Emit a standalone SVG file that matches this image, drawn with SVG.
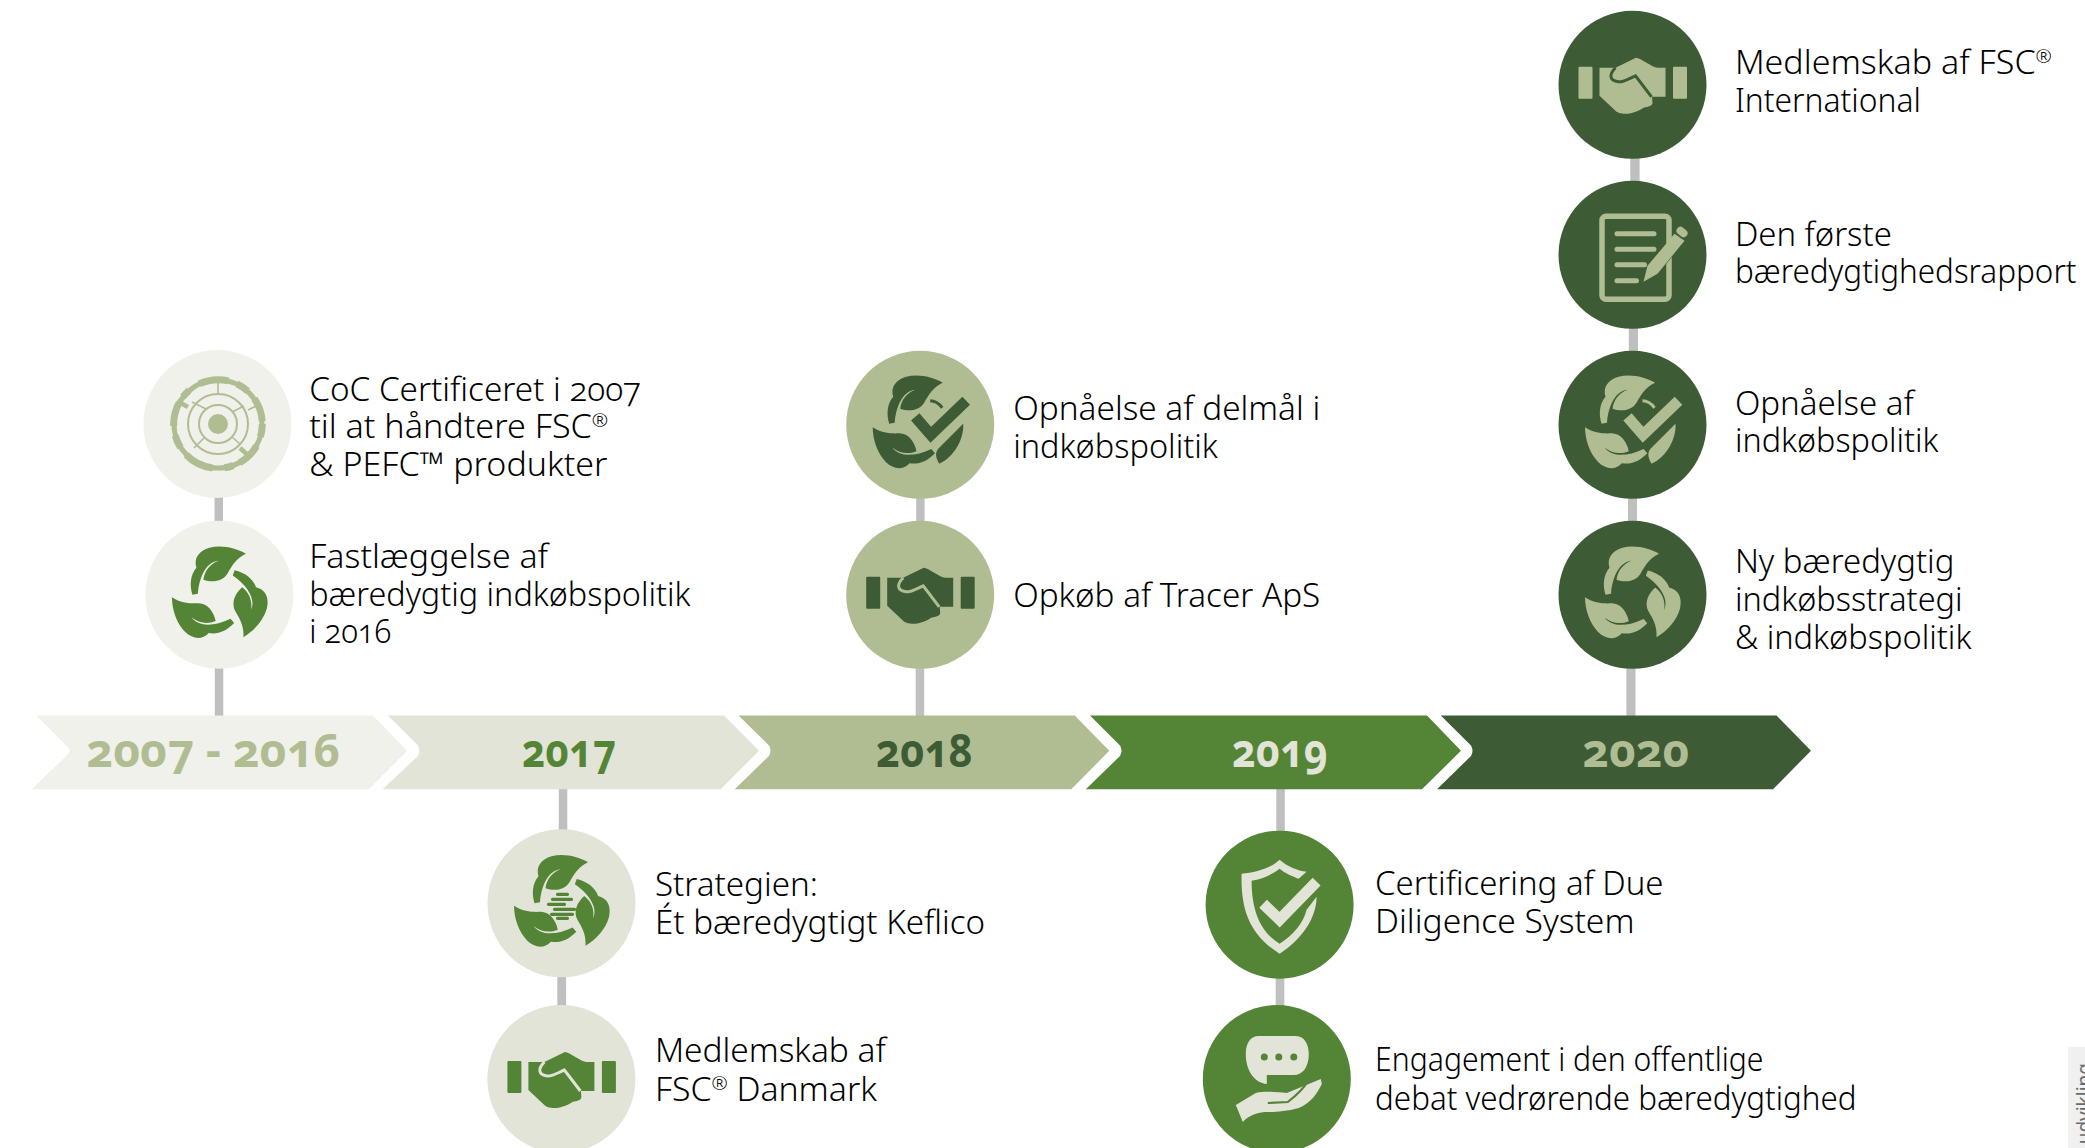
<svg xmlns="http://www.w3.org/2000/svg" width="2085" height="1148" viewBox="0 0 2085 1148">
<style>
text{font-family:"Noto Sans","Open Sans",sans-serif;font-variant-numeric:oldstyle-nums}
.t{font-size:33px;font-weight:300;fill:#000}
.sup{font-size:19px}
.y{font-size:46px;font-weight:700}
.conn rect{fill:#bfbfbf}
.c07{color:#b0bd93;--bg:#f0f1ea}
.c07b{color:#548536;--bg:#f0f1ea}
.c17{color:#548536;--bg:#e1e4d7}
.c18{color:#3d5c36;--bg:#b0bd93}
.c19{color:#e1e4d7;--bg:#548536}
.c20{color:#b0bd93;--bg:#3d5c36}
.disc{fill:var(--bg)}
.ic{fill:currentColor}
.gap{fill:none;stroke:var(--bg)}
.ln{fill:none;stroke:currentColor}
</style>
<defs>
<path id="leaf" d="M-27,0C-30,-10 -29,-20 -23,-27C-26,-37 -20,-44 -10,-47C2,-50 16,-47 26.5,-41C16,-36 12,-28 8,-21C3,-13 -7,-12 -16,-15C-15,-24 -9,-31 -1,-34C-12,-33 -20,-20 -21.500,-1Z"/>
<g id="recycle" class="ic">
<use href="#leaf"/>
<use href="#leaf" transform="translate(0,-4) rotate(120 0 2)"/>
<use href="#leaf" transform="translate(3,2) rotate(240 0 2)"/>
</g>
<g id="hand" class="ic">
<rect x="-54" y="-18" width="14" height="32" rx="1"/>
<rect x="40.5" y="-18" width="14" height="32" rx="1"/>
<path d="M-33,-17L-17,-17L3.5,-27C8,-27 20,-17 25,-17L33,-17L33,12L19.5,12L20,18C20,21 16,22 11,23C5,27 -2,29 -7,29C-12,29 -14,28 -16,27L-33,11Z"/>
<path class="gap" stroke-width="3" d="M-17,-17C-24,-10 -23,-4 -14,-3C-8,-3 -2,-7 3,-9L19,12"/>
</g>
<g id="ring">
<circle class="ln" r="44" stroke-width="5"/>
<circle class="ln" r="44.300" stroke-width="7" stroke-dasharray="13 10 24 7 9 12 30 9"/>
<circle class="ln" r="30" stroke-width="2"/>
<circle class="ln" r="19" stroke-width="2"/>
<circle class="ic" r="10"/>
<path class="ln" stroke-width="4.500" d="M-30,-17L-41,-23M22,24L32,33"/>
<path class="ln" stroke-width="1.6" d="M0,-44L0,-30M30,-14L42,-20M-12,-15L-26,-22M14,-12L26,-18M-14,14L-24,24M14,13L22,20"/>
</g>
<g id="checkleaf">
<g class="ic">
<use href="#leaf" transform="translate(-4,-1)"/>
<use href="#leaf" transform="translate(3,2) rotate(240 0 2)"/>
<path d="M43,-1C44,14 34,32 19,39C15,32 15,28 18,24Z"/>
</g>
<path class="ln" stroke-width="3" d="M10,-24C14,-24 19,-21 22,-17"/>
<path class="gap" stroke-width="17" d="M-5,-8L10.6,10L46,-24"/>
<path class="ln" stroke-width="11" d="M-5,-8L10.6,10L46,-24"/>
</g>
<g id="keflico">
<use href="#recycle"/>
<path class="ln" stroke-width="3.200" stroke-linecap="round" d="M-4,-9L6,-9M-9,-4L10,-4M-13,1L3,1M-7,6L13,6M-10,11L11,11M-4,15L6,15"/>
</g>
<g id="doc">
<rect class="ln" x="-30.5" y="-38.5" width="67" height="83" rx="4" stroke-width="5.5"/>
<path class="ln" stroke-width="5" stroke-linecap="round" d="M-15.5,-21L21.5,-21M-15.5,-5.500L21.5,-5.500M-15.5,10L12,10M-15.500,26L4,26"/>
<path class="gap" stroke-width="12" d="M14,24L48,-18"/>
<path class="ic" d="M11,27L15,11L42,-21L52,-14L25,19Z"/>
<path class="ln" stroke-width="8" stroke-linecap="round" d="M48,-24L51,-21.500"/>
</g>
<g id="shield">
<path class="ic" d="M0,-45C-8,-37 -24,-32 -38,-31C-39,5 -30,30 0,49C26,32 37,10 37,-8L27,5C24,18 14,30 0,39C-18,28 -28,8 -28,-24C-18,-25 -8,-30 0,-36C6,-31 14,-28 19,-26L27,-33C18,-34 8,-38 0,-45Z"/>
<path class="ln" stroke-width="11" d="M-16.500,-1L0,15L37,-23"/>
</g>
<g id="talk">
<path class="ic" d="M-18,-43L19,-43C28,-43 32,-34 32,-25C32,-12 26,-4 17,-4L-10,-4L-10,5C-22,4 -31,-8 -31,-25C-31,-35 -27,-43 -18,-43Z"/>
<circle class="disc" cx="-12.500" cy="-22" r="3.500"/>
<circle class="disc" cx="2" cy="-22" r="3.500"/>
<circle class="disc" cx="17" cy="-22" r="3.500"/>
<path class="ic" d="M-41,26L-21,14C-12,12 0,13 10,14L44,0L45,5C40,15 34,24 22,29C8,33 -5,33 -12,33C-22,34 -30,38 -34,43Z"/>
<path class="gap" stroke-width="2.200" d="M-9,24L11,23C20,16 28,8 31,2"/>
</g>
</defs>

<g id="connectors" class="conn">
<rect x="214.500" y="495" width="8.500" height="28"/>
<rect x="214.800" y="666" width="8.500" height="51"/>
<rect x="558.800" y="789" width="8.500" height="43"/>
<rect x="557.300" y="975" width="8.800" height="32"/>
<rect x="916.200" y="497" width="8.400" height="26"/>
<rect x="915.700" y="667" width="8.500" height="50"/>
<rect x="1276.300" y="789" width="8.500" height="43"/>
<rect x="1275.700" y="977" width="8.600" height="30"/>
<rect x="1630.300" y="157" width="9.300" height="26"/>
<rect x="1628.800" y="327" width="9.200" height="26"/>
<rect x="1628" y="497" width="9" height="26"/>
<rect x="1626.400" y="667" width="9.100" height="50"/>
</g>

<g id="timeline">
<g id="bar-2007-2016">
<path fill="#f0f1ea" d="M36.400,715.500L373,715.500L407,750.700L368.600,789.300L32,789.300L69,753Q70,750.700 69,748.500Z"/>
<text class="y" x="86.500" y="767.300" textLength="254" lengthAdjust="spacingAndGlyphs" fill="#b0bd93">2007 - 2016</text>
</g>
<g id="bar-2017">
<path fill="#e1e4d7" d="M388,715.500L724,715.500L759,750.700L720.700,789.300L382.600,789.300L418,756Q420.500,750.700 418,745.500Z"/>
<text class="y" x="522" y="767.300" textLength="94" lengthAdjust="spacingAndGlyphs" fill="#548536">2017</text>
</g>
<g id="bar-2018">
<path fill="#b0bd93" d="M738.500,715.500L1074.700,715.500L1109.300,750.700L1071.300,789.300L734.700,789.300L769,756Q772,750.700 769,745.500Z"/>
<text class="y" x="876" y="767.300" textLength="97" lengthAdjust="spacingAndGlyphs" fill="#3d5c36">2018</text>
</g>
<g id="bar-2019">
<path fill="#548536" d="M1090,715.500L1427,715.500L1461,750.700L1422,789.300L1085.800,789.300L1120,756Q1123,750.700 1120,745.500Z"/>
<text class="y" x="1232" y="767.300" textLength="96" lengthAdjust="spacingAndGlyphs" fill="#e1e4d7">2019</text>
</g>
<g id="bar-2020">
<path fill="#3d5c36" d="M1440.800,715.500L1776.500,715.500L1811,750.700L1773,789.300L1437,789.300L1471,756Q1474,750.700 1471,745.500Z"/>
<text class="y" x="1582.400" y="767.300" textLength="107" lengthAdjust="spacingAndGlyphs" fill="#b0bd93">2020</text>
</g>
</g>

<g id="node-coc" class="c07">
<circle class="disc" cx="217.500" cy="424" r="74"/>
<use href="#ring" x="218" y="424"/>
<text class="t" x="309.200" y="400.500" textLength="331.800" lengthAdjust="spacingAndGlyphs">CoC Certificeret i 2007</text>
<text class="t" x="309.200" y="437.900" textLength="299" lengthAdjust="spacingAndGlyphs">til at håndtere FSC<tspan class="sup" dy="-11">®</tspan></text>
<text class="t" x="309.200" y="475.500" textLength="298.300" lengthAdjust="spacingAndGlyphs">&amp; PEFC™ produkter</text>
</g>
<g id="node-indkob" class="c07b">
<circle class="disc" cx="219.400" cy="594.700" r="74"/>
<use href="#recycle" x="219.400" y="594.700"/>
<text class="t" x="309.200" y="567.900" textLength="238.900" lengthAdjust="spacingAndGlyphs">Fastlæggelse af</text>
<text class="t" x="309.200" y="605.500" textLength="381.300" lengthAdjust="spacingAndGlyphs">bæredygtig indkøbspolitik</text>
<text class="t" x="309.200" y="642.900" textLength="82" lengthAdjust="spacingAndGlyphs">i 2016</text>
</g>
<g id="node-strategi" class="c17">
<circle class="disc" cx="561.500" cy="903.300" r="74"/>
<use href="#keflico" x="561.500" y="903.300"/>
<text class="t" x="654.900" y="896.200" textLength="163" lengthAdjust="spacingAndGlyphs">Strategien:</text>
<text class="t" x="654.900" y="933.900" textLength="330.200" lengthAdjust="spacingAndGlyphs">Ét bæredygtigt Keflico</text>
</g>
<g id="node-fsc-dk" class="c17">
<circle class="disc" cx="561.400" cy="1079" r="74"/>
<use href="#hand" x="561.400" y="1079"/>
<text class="t" x="654.900" y="1061.900" textLength="230.900" lengthAdjust="spacingAndGlyphs">Medlemskab af</text>
<text class="t" x="654.900" y="1100.500" textLength="222" lengthAdjust="spacingAndGlyphs">FSC<tspan class="sup" dy="-11">®</tspan><tspan dy="11"> Danmark</tspan></text>
</g>
<g id="node-delmaal" class="c18">
<circle class="disc" cx="920.200" cy="424.800" r="74"/>
<use href="#checkleaf" x="920.200" y="424.800"/>
<text class="t" x="1013.200" y="419.500" textLength="307" lengthAdjust="spacingAndGlyphs">Opnåelse af delmål i</text>
<text class="t" x="1013.200" y="457.900" textLength="204.700" lengthAdjust="spacingAndGlyphs">indkøbspolitik</text>
</g>
<g id="node-tracer" class="c18">
<circle class="disc" cx="920.200" cy="594.800" r="74"/>
<use href="#hand" x="920.200" y="594.800"/>
<text class="t" x="1013.200" y="606.900" textLength="307" lengthAdjust="spacingAndGlyphs">Opkøb af Tracer ApS</text>
</g>
<g id="node-dds" class="c19">
<circle class="disc" cx="1279.600" cy="904.700" r="74"/>
<use href="#shield" x="1279.600" y="904.700"/>
<text class="t" x="1375.100" y="894.500" textLength="288.400" lengthAdjust="spacingAndGlyphs">Certificering af Due</text>
<text class="t" x="1375.100" y="932.900" textLength="259.400" lengthAdjust="spacingAndGlyphs">Diligence System</text>
</g>
<g id="node-debat" class="c19">
<circle class="disc" cx="1276.800" cy="1079" r="74"/>
<use href="#talk" x="1276.800" y="1079"/>
<text class="t" x="1375.100" y="1071.200" textLength="388.400" lengthAdjust="spacingAndGlyphs">Engagement i den offentlige</text>
<text class="t" x="1375.100" y="1109.500" textLength="481.400" lengthAdjust="spacingAndGlyphs">debat vedrørende bæredygtighed</text>
</g>
<g id="node-fsc-int" class="c20">
<circle class="disc" cx="1632.500" cy="84.800" r="74"/>
<use href="#hand" x="1632.500" y="84.800"/>
<text class="t" x="1734.900" y="73.900" textLength="317" lengthAdjust="spacingAndGlyphs">Medlemskab af FSC<tspan class="sup" dy="-11">®</tspan></text>
<text class="t" x="1734.900" y="112.200" textLength="186" lengthAdjust="spacingAndGlyphs">International</text>
</g>
<g id="node-rapport" class="c20">
<circle class="disc" cx="1632.500" cy="254.800" r="74"/>
<use href="#doc" x="1632.500" y="254.800"/>
<text class="t" x="1734.900" y="245.500" textLength="157" lengthAdjust="spacingAndGlyphs">Den første</text>
<text class="t" x="1734.900" y="282.900" textLength="341.600" lengthAdjust="spacingAndGlyphs">bæredygtighedsrapport</text>
</g>
<g id="node-opnaaelse" class="c20">
<circle class="disc" cx="1632.500" cy="424.800" r="74"/>
<use href="#checkleaf" x="1632.500" y="424.800"/>
<text class="t" x="1734.900" y="414.500" textLength="178.900" lengthAdjust="spacingAndGlyphs">Opnåelse af</text>
<text class="t" x="1734.900" y="452.200" textLength="203.600" lengthAdjust="spacingAndGlyphs">indkøbspolitik</text>
</g>
<g id="node-ny" class="c20">
<circle class="disc" cx="1632.500" cy="594.800" r="74"/>
<use href="#recycle" x="1632.500" y="594.800"/>
<text class="t" x="1734.900" y="572.900" textLength="219.600" lengthAdjust="spacingAndGlyphs">Ny bæredygtig</text>
<text class="t" x="1734.900" y="610.500" textLength="227.600" lengthAdjust="spacingAndGlyphs">indkøbsstrategi</text>
<text class="t" x="1734.900" y="648.500" textLength="236.600" lengthAdjust="spacingAndGlyphs">&amp; indkøbspolitik</text>
</g>

<rect x="2068" y="1047" width="17" height="101" fill="#f0f0f0"/>
<text transform="translate(2091,1063) rotate(-90)" text-anchor="end" font-size="19" fill="#6b6b6b">udvikling</text>
</svg>
